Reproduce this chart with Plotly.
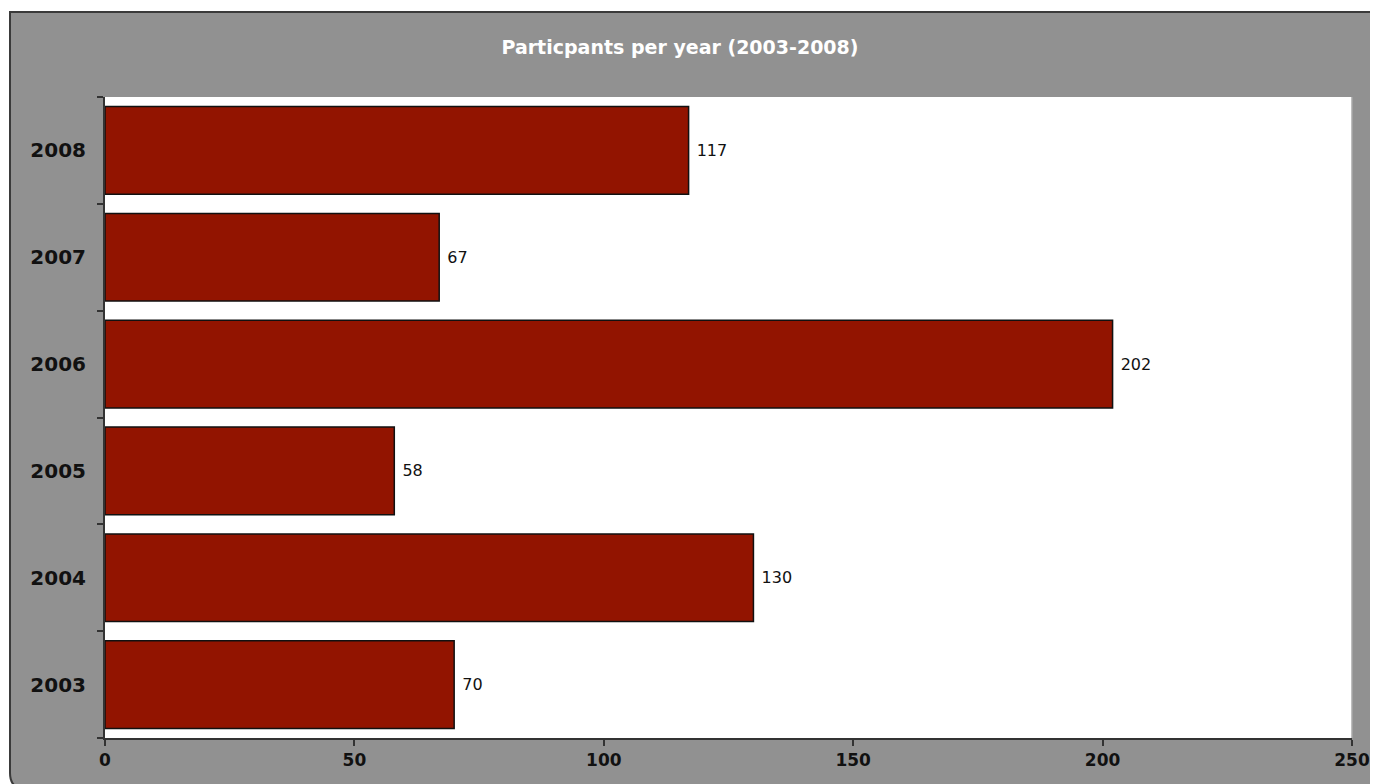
import plotly.graph_objects as go

years = ["2003", "2004", "2005", "2006", "2007", "2008"]
participants = [70, 130, 58, 202, 67, 117]
x_ticks = [0, 50, 100, 150, 200, 250]
title_text = "Particpants per year (2003-2008)"

# page body places the figure 8px from the top-left corner of the window
OFF = 8
W, H = 1378 - OFF, 784 - OFF
L = 105 - OFF
R = W - (1352 - OFF)
T = 97 - OFF
B = H - (738 - OFF)
pw, ph = W - L - R, H - T - B

def px(x):
    return (x - OFF - L) / pw

def py(y):
    return (H - B - (y - OFF)) / ph

fig = go.Figure(go.Bar(
    y=years, x=participants, orientation="h",
    marker=dict(color="#921400", line=dict(color="#111111", width=1.5)),
    text=[str(v) for v in participants], texttemplate=" %{text}",
    textposition="outside",
    textfont=dict(family="DejaVu Sans", size=16, color="#111111"),
    cliponaxis=False,
))

# grey chart background with border (rounded bottom-left corner, bottom runs off-page)
x0, y0, x1, y1, r = px(10), py(12), px(1400), py(789), 16
rx, ry = r / pw, r / ph
path = (f"M {x0},{y0} L {x1},{y0} L {x1},{y1} L {x0+rx},{y1} "
        f"Q {x0},{y1} {x0},{y1+ry} Z")
fig.add_shape(type="path", path=path, xref="paper", yref="paper",
              fillcolor="#919191", line=dict(color="#3a3a3a", width=2), layer="below")
fig.add_shape(type="rect", xref="paper", yref="paper", x0=0, y0=0, x1=1, y1=1,
              fillcolor="white", line=dict(width=0), layer="below")
fig.add_shape(type="line", xref="paper", yref="paper", x0=1, y0=0, x1=1, y1=1,
              line=dict(color="#a8a8a8", width=1.5))

fig.update_layout(
    width=W, height=H,
    margin=dict(l=L, r=R, t=T, b=B, pad=0, autoexpand=False),
    paper_bgcolor="white", plot_bgcolor="rgba(0,0,0,0)",
    bargap=0.18,
    showlegend=False,
    title=dict(text=title_text, x=(680 - OFF) / W, xref="container", xanchor="center",
               y=1 - (47 - OFF) / H, yanchor="middle",
               font=dict(family="DejaVu Sans", size=19, color="white", weight="bold")),
    xaxis=dict(range=[0, 250], tickvals=x_ticks, ticktext=[str(v) for v in x_ticks],
               automargin=False,
               showgrid=False, zeroline=False,
               showline=True, linecolor="#333333", linewidth=2,
               ticks="outside", ticklen=6, tickcolor="#333333", tickwidth=1.5,
               tickfont=dict(family="DejaVu Sans", size=17, color="#111111", weight="bold")),
    yaxis=dict(type="category", categoryorder="array", categoryarray=years,
               automargin=False,
               showgrid=False, zeroline=False,
               showline=True, linecolor="#333333", linewidth=2,
               ticks="outside", ticklen=6, tickcolor="#333333", tickwidth=1.5,
               tickson="boundaries",
               tickfont=dict(family="DejaVu Sans", size=20, color="#111111", weight="bold"),
               ticklabelstandoff=13),
)

fig.write_html("out.html")
